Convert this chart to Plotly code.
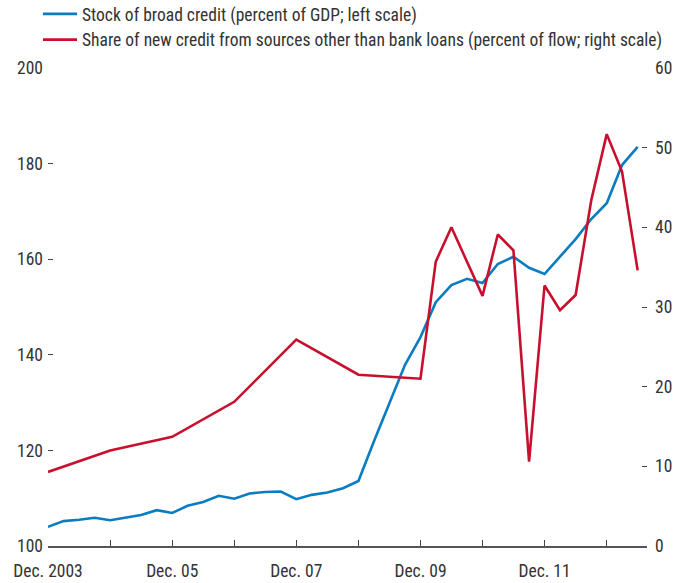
import plotly.graph_objects as go

# Stock of broad credit (percent of GDP; left scale) - quarterly
credit_dates = [
    "2003-12-01", "2004-03-01", "2004-06-01", "2004-09-01", "2004-12-01",
    "2005-03-01", "2005-06-01", "2005-09-01", "2005-12-01",
    "2006-03-01", "2006-06-01", "2006-09-01", "2006-12-01",
    "2007-03-01", "2007-06-01", "2007-09-01", "2007-12-01",
    "2008-03-01", "2008-06-01", "2008-09-01", "2008-12-01",
    "2009-03-01", "2009-06-01", "2009-09-01", "2009-12-01",
    "2010-03-01", "2010-06-01", "2010-09-01", "2010-12-01",
    "2011-03-01", "2011-06-01", "2011-09-01", "2011-12-01",
    "2012-03-01", "2012-06-01", "2012-09-01", "2012-12-01",
    "2013-03-01", "2013-06-01",
]
credit_values = [
    104.0, 105.2, 105.5, 105.9, 105.4,
    105.9, 106.5, 107.5, 106.9,
    108.4, 109.2, 110.5, 109.9,
    111.0, 111.3, 111.4, 109.8,
    110.7, 111.2, 112.1, 113.6,
    121.8, 130.0, 137.9, 143.7,
    151.0, 154.6, 155.9, 155.0,
    159.0, 160.5, 158.2, 156.9,
    160.5, 164.2, 168.4, 171.7,
    179.7, 183.5,
]

# Share of new credit from sources other than bank loans (percent of flow; right scale)
share_dates = [
    "2003-12-01", "2004-12-01", "2005-12-01", "2006-12-01", "2007-12-01",
    "2008-12-01", "2009-12-01",
    "2010-03-01", "2010-06-01", "2010-09-01", "2010-12-01",
    "2011-03-01", "2011-06-01", "2011-09-01", "2011-12-01",
    "2012-03-01", "2012-06-01", "2012-09-01", "2012-12-01",
    "2013-03-01", "2013-06-01",
]
share_values = [
    9.3, 12.0, 13.7, 18.1, 25.9,
    21.5, 21.0,
    35.7, 40.0, 35.6, 31.4,
    39.1, 37.1, 10.6, 32.7,
    29.6, 31.5, 43.4, 51.7,
    47.0, 34.6,
]

tick_dates = [f"{y}-12-01" for y in range(2003, 2013)]
tick_labels = ["Dec. 2003", "", "Dec. 05", "", "Dec. 07", "", "Dec. 09", "", "Dec. 11", ""]
left_ticks = [100, 120, 140, 160, 180, 200]
right_ticks = [0, 10, 20, 30, 40, 50, 60]

name_credit = "Stock of broad credit (percent of GDP; left scale)"
name_share = "Share of new credit from sources other than bank loans (percent of flow; right scale)"

FONT = "Liberation Sans Narrow, Arial Narrow, Roboto Condensed, sans-serif"
TXT = "#333333"
FS = 17.5

fig = go.Figure()
fig.add_trace(go.Scatter(
    x=credit_dates, y=credit_values, name=name_credit, mode="lines",
    line=dict(color="#0a7cc2", width=2.6), yaxis="y",
))
fig.add_trace(go.Scatter(
    x=share_dates, y=share_values, name=name_share, mode="lines",
    line=dict(color="#c8102e", width=2.6), yaxis="y2",
))

fig.update_layout(
    width=688, height=583,
    margin=dict(l=48, r=41, t=68, b=37, autoexpand=False),
    paper_bgcolor="white", plot_bgcolor="white",
    font=dict(family=FONT, size=FS, color=TXT),
    showlegend=True,
    legend=dict(
        x=-10 / 599, y=1 + 72 / 478, xanchor="left", yanchor="top",
        bgcolor="rgba(0,0,0,0)", tracegroupgap=0, itemwidth=34,
        font=dict(family=FONT, size=FS, color=TXT),
    ),
    xaxis=dict(
        type="date", range=["2003-12-01", "2013-07-26"],
        tickvals=tick_dates, ticktext=tick_labels,
        ticks="inside", ticklen=6, tickcolor="#444444", tickwidth=1,
        showline=True, linecolor="#555555", linewidth=1.5,
        showgrid=False, zeroline=False, automargin=False,
        ticklabelstandoff=8,
    ),
    yaxis=dict(
        range=[100, 200], tickvals=left_ticks,
        ticktext=[f"{v}\u00a0" for v in left_ticks],
        ticks="inside", ticklen=5, tickcolor="#444444", tickwidth=1.2,
        showline=False, showgrid=False, zeroline=False, automargin=False,
    ),
    yaxis2=dict(
        range=[0, 60], tickvals=right_ticks,
        overlaying="y", side="right",
        ticks="inside", ticklen=5, tickcolor="#444444", tickwidth=1.2,
        showline=False, showgrid=False, zeroline=False, automargin=False,
        ticklabelstandoff=7,
    ),
)

fig.write_html("out.html", config={"displayModeBar": False},
               post_script="document.body.style.margin='0';")
